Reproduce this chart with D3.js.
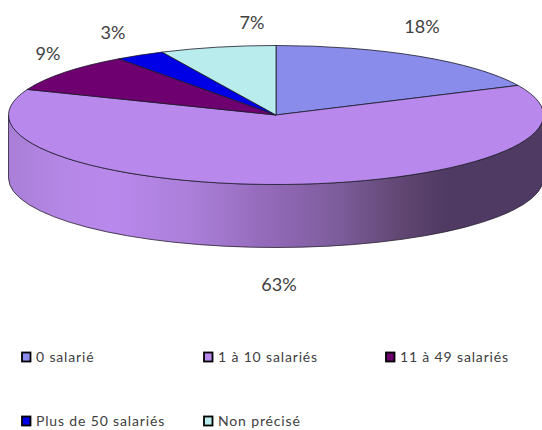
<!DOCTYPE html>
<html><head><meta charset="utf-8">
<script src="https://cdn.jsdelivr.net/npm/d3@7"></script>
<style>html,body{margin:0;padding:0;background:#fff}svg{display:block}text{font-family:Lato,"Open Sans",sans-serif;fill:#404040}</style>
</head><body><svg id="c" width="542" height="430"></svg>
<script>
const categories=["0 salarié","1 à 10 salariés","11 à 49 salariés","Plus de 50 salariés","Non précisé"];
const values=[18,63,9,3,7];
const colors=["#8a8ceb","#b988ec","#6f006f","#0000e6","#b9ecec"];
const labelPos=[[422,33],[279,291],[48,60],[113,39],[252,29]];
const legendPos=[[22,357],[204,357],[386,357],[22,421],[204,421]];

const W=542,H=430,cx=276,cy=115,rx=267.5,ry=69.5,depth=63;
const svg=d3.select("#c");
const defs=svg.append("defs");
const wall=defs.append("linearGradient").attr("id","wall").attr("gradientUnits","userSpaceOnUse")
 .attr("x1",cx-rx).attr("x2",cx+rx).attr("y1",0).attr("y2",0);
[[0,"#a87ed6"],[.1,"#b587e6"],[.2,"#b988ec"],[.34,"#ab7fd9"],[.5,"#9068b6"],[.62,"#7c5c9a"],[.74,"#5f4570"],[.82,"#4f3a63"],[1,"#4f3a63"]]
 .forEach(d=>wall.append("stop").attr("offset",d[0]).attr("stop-color",d[1]));

svg.append("path").attr("fill","url(#wall)").attr("stroke","#2a2030").attr("stroke-width",.8)
 .attr("d",`M${cx-rx},${cy}A${rx},${ry} 0 0 0 ${cx+rx},${cy}V${cy+depth}A${rx},${ry} 0 0 1 ${cx-rx},${cy+depth}Z`);

const pie=d3.pie().sort(null).value(d=>d)(values);
const arc=d3.arc().innerRadius(0).outerRadius(rx);
svg.append("g").attr("transform",`translate(${cx},${cy}) scale(1,${ry/rx})`)
 .selectAll("path").data(pie).join("path")
 .attr("d",arc).attr("fill",(d,i)=>colors[i])
 .attr("stroke","#1a1a2a").attr("stroke-width",.8).attr("vector-effect","non-scaling-stroke");

svg.append("g").selectAll("text").data(values).join("text")
 .attr("x",(d,i)=>labelPos[i][0]).attr("y",(d,i)=>labelPos[i][1])
 .attr("text-anchor","middle").attr("font-size",18).text(d=>d+"%");

const lg=svg.append("g").selectAll("g").data(categories).join("g")
 .attr("transform",(d,i)=>`translate(${legendPos[i][0]},${legendPos[i][1]})`);
lg.append("rect").attr("x",0).attr("y",-4.5).attr("width",8.5).attr("height",9)
 .attr("fill",(d,i)=>colors[i]).attr("stroke","#000").attr("stroke-width",1.8);
lg.append("text").attr("x",14).attr("y",5).attr("font-size",14).attr("letter-spacing",0.85).text(d=>d);
</script></body></html>
